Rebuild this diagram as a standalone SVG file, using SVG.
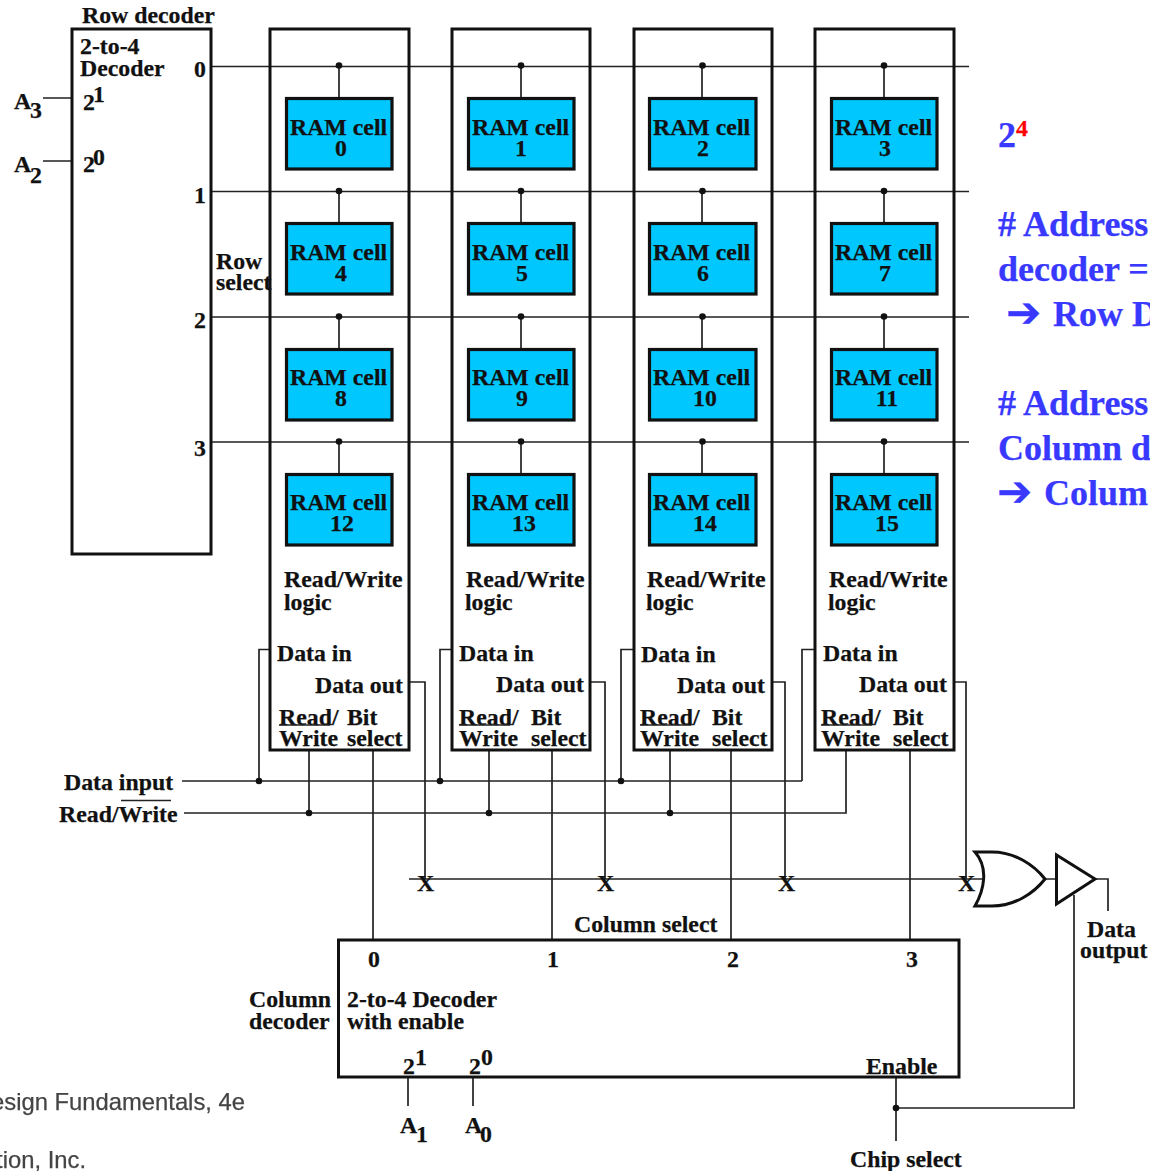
<svg xmlns="http://www.w3.org/2000/svg" width="1150" height="1171" viewBox="0 0 1150 1171">
<style>
text{font-family:"Liberation Serif","Times New Roman",serif;font-weight:bold;font-size:23.8px;fill:#111;stroke:#111;stroke-width:.25}
.box{fill:none;stroke:#111;stroke-width:3}
.cell{fill:#00c8ff;stroke:#111;stroke-width:3.2}
.w{fill:none;stroke:#222;stroke-width:1.7}
.dot{fill:#111}
text.b{font-size:36px;fill:#3838ff;stroke:#3838ff}
text.r{fill:#ff0000;stroke:#ff0000}
text.m{font-family:"Liberation Sans",Arial,sans-serif;font-weight:normal;fill:#444;stroke:#444;filter:url(#soft)}
text.ar{font-family:"DejaVu Sans",sans-serif;font-size:42px;fill:#3838ff;stroke:#3838ff}
</style>
<defs><filter id="soft" x="-5%" y="-20%" width="110%" height="140%"><feGaussianBlur stdDeviation="0.7"/></filter></defs>
<rect width="1150" height="1171" fill="#fff"/>

<g id="connectors">
<path class="w" d="M212 66.500H969M212 191.500H969M212 317H969M212 442H969"/>
<path class="w" d="M339 66V98M521 66V98M702 66V98M884 66V98M339 191V223M521 191V223M702 191V223M884 191V223M339 317V349M521 317V349M702 317V349M884 317V349M339 442V474M521 442V474M702 442V474M884 442V474"/>
<path class="w" d="M43 98H72M43 161H72"/>
<path class="w" d="M270 649.500H259V781M452 649.500H440V781M634 649.500H621V781M815 649.500H802V781M182 781H802"/>
<path class="w" d="M184 813H846V750M309 750V813M489 750V813M670 750V813"/>
<path class="w" d="M409 682H425V879M590 682H605V879M772 682H785V879M954 682H966V879M409 879H985"/>
<path class="w" d="M373 750V940M552 750V940M731 750V940M910 750V940"/>
<path class="w" d="M1045 879H1056M1096 879H1108V911M1074 895V1108H896M896 1078V1141"/>
<path class="w" d="M408 1078V1106M473 1078V1106"/>
<g class="dot">
<circle cx="339" cy="65.500" r="3.300"/><circle cx="521" cy="65.500" r="3.300"/><circle cx="702.500" cy="65.500" r="3.300"/><circle cx="884" cy="65.500" r="3.300"/>
<circle cx="339" cy="191" r="3.300"/><circle cx="521" cy="191" r="3.300"/><circle cx="702.500" cy="191" r="3.300"/><circle cx="884" cy="191" r="3.300"/>
<circle cx="339" cy="316.500" r="3.300"/><circle cx="521" cy="316.500" r="3.300"/><circle cx="702.500" cy="316.500" r="3.300"/><circle cx="884" cy="316.500" r="3.300"/>
<circle cx="339" cy="441.500" r="3.300"/><circle cx="521" cy="441.500" r="3.300"/><circle cx="702.500" cy="441.500" r="3.300"/><circle cx="884" cy="441.500" r="3.300"/>
<circle cx="259" cy="781" r="3.300"/><circle cx="440" cy="781" r="3.300"/><circle cx="621" cy="781" r="3.300"/>
<circle cx="309" cy="813" r="3.300"/><circle cx="489" cy="813" r="3.300"/><circle cx="670" cy="813" r="3.300"/>
<circle cx="896" cy="1108" r="3.300"/>
</g>
<text x="417" y="891">X</text><text x="597" y="891">X</text><text x="778" y="891">X</text><text x="958" y="891">X</text>
</g>

<g id="row-decoder">
<text x="82" y="23">Row decoder</text>
<text x="80" y="54">2-to-4</text><text x="80" y="76">Decoder</text>
<text x="83" y="110">2</text><text x="93" y="102">1</text>
<text x="83" y="172">2</text><text x="93" y="165">0</text>
<text x="14" y="109">A</text><text x="30" y="118">3</text>
<text x="14" y="172">A</text><text x="30" y="183">2</text>
<text x="194" y="77">0</text><text x="194" y="203">1</text><text x="194" y="328">2</text><text x="194" y="456">3</text>
<text x="216" y="269">Row</text><text x="216" y="290">select</text>
<rect class="box" x="72" y="29" width="139" height="525"/>
</g>

<g id="column-0">
<rect class="box" x="270" y="29" width="139" height="721"/>
<text x="284" y="587">Read/Write</text><text x="284" y="610">logic</text>
<text x="277" y="661">Data in</text><text x="315" y="693">Data out</text>
<text x="279" y="725">Read/</text><text x="347" y="725">Bit</text><text x="279" y="746">Write</text><text x="347" y="746">select</text>
<path class="w" d="M279 725H330"/>
</g>
<g id="column-1">
<rect class="box" x="452" y="29" width="138" height="721"/>
<text x="466" y="587">Read/Write</text><text x="465" y="610">logic</text>
<text x="459" y="661">Data in</text><text x="496" y="692">Data out</text>
<text x="459" y="725">Read/</text><text x="531" y="725">Bit</text><text x="459" y="746">Write</text><text x="531" y="746">select</text>
<path class="w" d="M459 725H510"/>
</g>
<g id="column-2">
<rect class="box" x="634" y="29" width="138" height="721"/>
<text x="647" y="587">Read/Write</text><text x="646" y="610">logic</text>
<text x="641" y="662">Data in</text><text x="677" y="693">Data out</text>
<text x="640" y="725">Read/</text><text x="712" y="725">Bit</text><text x="640" y="746">Write</text><text x="712" y="746">select</text>
<path class="w" d="M640 725H691"/>
</g>
<g id="column-3">
<rect class="box" x="815" y="29" width="139" height="721"/>
<text x="829" y="587">Read/Write</text><text x="828" y="610">logic</text>
<text x="823" y="661">Data in</text><text x="859" y="692">Data out</text>
<text x="821" y="725">Read/</text><text x="893" y="725">Bit</text><text x="821" y="746">Write</text><text x="893" y="746">select</text>
<path class="w" d="M821 725H872"/>
</g>

<g id="cell-0"><rect class="cell" x="286.500" y="98.500" width="105.500" height="70.500"/><text x="290" y="135">RAM cell</text><text x="341" y="156" text-anchor="middle">0</text></g>
<g id="cell-1"><rect class="cell" x="468.500" y="98.500" width="105.500" height="70.500"/><text x="472" y="135">RAM cell</text><text x="521" y="156" text-anchor="middle">1</text></g>
<g id="cell-2"><rect class="cell" x="649.500" y="98.500" width="106.500" height="70.500"/><text x="653" y="135">RAM cell</text><text x="703" y="156" text-anchor="middle">2</text></g>
<g id="cell-3"><rect class="cell" x="831.500" y="98.500" width="105.500" height="70.500"/><text x="835" y="135">RAM cell</text><text x="885" y="156" text-anchor="middle">3</text></g>
<g id="cell-4"><rect class="cell" x="286.500" y="223.500" width="105.500" height="70.500"/><text x="290" y="260">RAM cell</text><text x="341" y="281" text-anchor="middle">4</text></g>
<g id="cell-5"><rect class="cell" x="468.500" y="223.500" width="105.500" height="70.500"/><text x="472" y="260">RAM cell</text><text x="522" y="281" text-anchor="middle">5</text></g>
<g id="cell-6"><rect class="cell" x="649.500" y="223.500" width="106.500" height="70.500"/><text x="653" y="260">RAM cell</text><text x="703" y="281" text-anchor="middle">6</text></g>
<g id="cell-7"><rect class="cell" x="831.500" y="223.500" width="105.500" height="70.500"/><text x="835" y="260">RAM cell</text><text x="885" y="281" text-anchor="middle">7</text></g>
<g id="cell-8"><rect class="cell" x="286.500" y="349.500" width="105.500" height="70.500"/><text x="290" y="385">RAM cell</text><text x="341" y="406" text-anchor="middle">8</text></g>
<g id="cell-9"><rect class="cell" x="468.500" y="349.500" width="105.500" height="70.500"/><text x="472" y="385">RAM cell</text><text x="522" y="406" text-anchor="middle">9</text></g>
<g id="cell-10"><rect class="cell" x="649.500" y="349.500" width="106.500" height="70.500"/><text x="653" y="385">RAM cell</text><text x="705" y="406" text-anchor="middle">10</text></g>
<g id="cell-11"><rect class="cell" x="831.500" y="349.500" width="105.500" height="70.500"/><text x="835" y="385">RAM cell</text><text x="887" y="406" text-anchor="middle">11</text></g>
<g id="cell-12"><rect class="cell" x="286.500" y="474.500" width="105.500" height="70.500"/><text x="290" y="510">RAM cell</text><text x="342" y="531" text-anchor="middle">12</text></g>
<g id="cell-13"><rect class="cell" x="468.500" y="474.500" width="105.500" height="70.500"/><text x="472" y="510">RAM cell</text><text x="524" y="531" text-anchor="middle">13</text></g>
<g id="cell-14"><rect class="cell" x="649.500" y="474.500" width="106.500" height="70.500"/><text x="653" y="510">RAM cell</text><text x="705" y="531" text-anchor="middle">14</text></g>
<g id="cell-15"><rect class="cell" x="831.500" y="474.500" width="105.500" height="70.500"/><text x="835" y="510">RAM cell</text><text x="887" y="531" text-anchor="middle">15</text></g>

<g id="bus-labels">
<text x="64" y="790">Data input</text>
<text x="59" y="822">Read/Write</text>
<path class="w" d="M121 800.500H171"/>
<text x="574" y="932">Column select</text>
</g>

<g id="column-decoder">
<rect class="box" x="338.500" y="940" width="620.500" height="137"/>
<text x="368" y="967">0</text><text x="547" y="967">1</text><text x="727" y="967">2</text><text x="906" y="967">3</text>
<text x="249" y="1007">Column</text><text x="249" y="1029">decoder</text>
<text x="347" y="1007">2-to-4 Decoder</text><text x="347" y="1029">with enable</text>
<text x="403" y="1074">2</text><text x="415" y="1065">1</text>
<text x="469" y="1074">2</text><text x="481" y="1065">0</text>
<text x="866" y="1074">Enable</text>
<text x="400" y="1133">A</text><text x="416" y="1142">1</text>
<text x="465" y="1133">A</text><text x="480" y="1142">0</text>
<text x="850" y="1167">Chip select</text>
</g>

<g id="or-gate">
<path class="box" d="M975 852H992C1015 852 1034 865 1045 879C1034 893 1015 906 992 906H975C984 890 989 868 975 852Z"/>
</g>
<g id="output-buffer">
<path class="box" d="M1056.500 855V904L1095 879Z"/>
<text x="1087" y="937">Data</text><text x="1080" y="958">output</text>
</g>

<g id="notes">
<text class="b" x="998" y="147">2</text><text class="r" x="1016" y="136">4</text>
<text class="b" x="998" y="236"># Address</text>
<text class="b" x="998" y="281">decoder =</text>
<text class="ar" x="1006" y="327">➔</text><text class="b" x="1053" y="326">Row D</text>
<text class="b" x="998" y="415"># Address</text>
<text class="b" x="998" y="460">Column d</text>
<text class="ar" x="997" y="506">➔</text><text class="b" x="1044" y="505">Colum</text>
</g>

<g id="credit">
<text class="m" x="245" y="1110" text-anchor="end">esign Fundamentals, 4e</text>
<text class="m" x="86" y="1168" text-anchor="end">tion, Inc.</text>
</g>
</svg>
